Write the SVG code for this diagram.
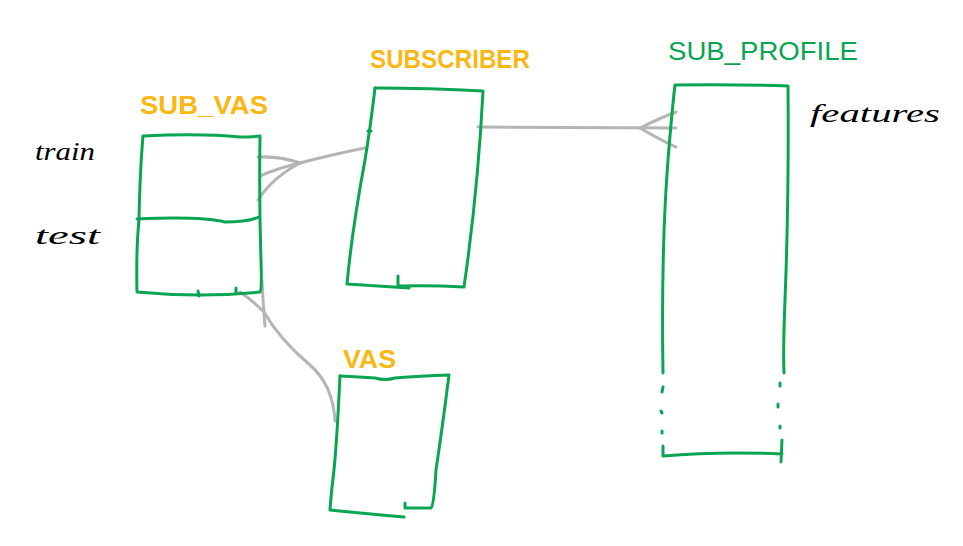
<svg xmlns="http://www.w3.org/2000/svg" width="963" height="546" viewBox="0 0 963 546">
<style>
.box{fill:none;stroke:#0aa552;stroke-width:3;stroke-linecap:round;stroke-linejoin:round}
.con{fill:none;stroke:#b5b5b5;stroke-width:3;stroke-linecap:round;stroke-linejoin:round}
.lbl{font-family:"Liberation Sans",Arial,sans-serif;font-weight:bold;font-size:26px;fill:#fbb714}
.glbl{font-family:"Liberation Sans",Arial,sans-serif;font-size:26px;fill:#0aa552}
.note{font-family:"Liberation Serif","Times New Roman",serif;font-style:italic;font-size:26px;fill:#000}
</style>
<rect width="963" height="546" fill="#fff"/>
<g id="connectors">
<path class="con" d="M365,148 Q330,155 300,163"/>
<path class="con" d="M300,163 Q280,156 258,157"/>
<path class="con" d="M300,163 Q278,168 260,176"/>
<path class="con" d="M300,163 Q272,178 258,200"/>
<path class="con" d="M478,127 Q560,127 676,128"/>
<path class="con" d="M640,128 Q660,118 676,112"/>
<path class="con" d="M640,128 Q660,140 676,147"/>
<path class="con" d="M335,421 Q333,385 310,365 Q280,340 264,312"/>
<path class="con" d="M264,312 Q252,300 240,292"/>
<path class="con" d="M262,281 Q263,303 265,326"/>
</g>
<g id="sub_vas">
<text class="lbl" x="140" y="114" textLength="128" lengthAdjust="spacingAndGlyphs">SUB_VAS</text>
<path class="box" d="M143,136 Q200,133 240,137 Q252,137 260,136 Q259,200 261,260 Q262,290 260,292 Q200,298 137,292 Q136,250 139,220 Q140,170 143,136"/>
<path class="box" d="M137,219 Q200,216 225,222 Q248,222 259,217"/>
<path class="box" d="M198,291 L199,296 M236,288 L236,293"/>
</g>
<g id="subscriber">
<text class="lbl" x="370" y="68" textLength="160" lengthAdjust="spacingAndGlyphs">SUBSCRIBER</text>
<path class="box" d="M375,88 Q430,88 483,91 Q478,190 464,287 Q430,285 398,286 L398,276"/>
<path class="box" d="M375,88 Q370,130 365,160 Q352,230 347,284 Q380,286 409,288"/>
<path class="box" d="M368,131 L371,131"/>
</g>
<g id="sub_profile">
<text class="glbl" x="668" y="60" textLength="190" lengthAdjust="spacingAndGlyphs">SUB_PROFILE</text>
<text class="note" x="810" y="122" textLength="130" lengthAdjust="spacingAndGlyphs">features</text>
<path class="box" d="M663,373 Q661,250 668,160 Q672,110 675,85 Q730,84 788,86 Q789,200 785,300 Q783,350 784,373"/>
<path class="box" d="M663,387 L662,392 M661,411 L662,413 M662,431 L662,433 M780,383 L780,386 M778,404 L778,407 M780,426 L780,428"/>
<path class="box" d="M663,446 L663,456 Q720,451 782,454 M782,440 L781,462"/>
</g>
<g id="vas">
<text class="lbl" x="343" y="368" textLength="53" lengthAdjust="spacingAndGlyphs">VAS</text>
<path class="box" d="M340,376 Q360,377 375,378 Q385,381 395,378 Q420,376 449,375 Q442,430 436,470 Q434,505 431,508 L405,508 L405,503"/>
<path class="box" d="M340,376 Q337,440 334,470 Q331,495 330,510 Q370,514 404,517"/>
</g>
<g id="labels">
<text class="note" x="35" y="160" textLength="60" lengthAdjust="spacingAndGlyphs">train</text>
<text class="note" x="35" y="244" textLength="65" lengthAdjust="spacingAndGlyphs">test</text>
</g>
</svg>
